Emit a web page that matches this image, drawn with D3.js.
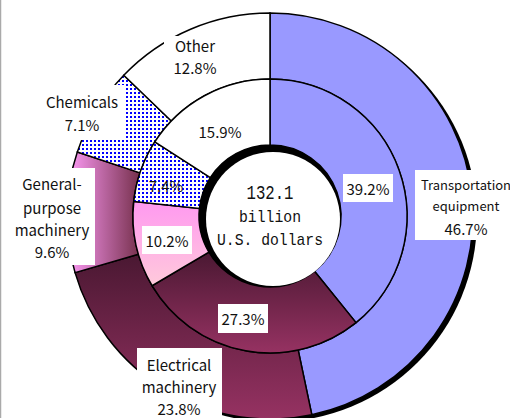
<!DOCTYPE html>
<html>
<head>
<meta charset="utf-8">
<title></title>
<style type="text/css">
body { margin: 0; background: #fff; }
text { font-family: "Noto Sans CJK JP", "Noto Sans", sans-serif; fill: #111; }
.mono { font-family: "Liberation Mono", "DejaVu Sans Mono", monospace; }
</style>
</head>
<body>
<svg width="510" height="418"></svg>
<script src="https://d3js.org/d3.v7.min.js"></script>
<script type="text/javascript">
// data
var categories = ["Transportation equipment", "Electrical machinery", "General-purpose machinery", "Chemicals", "Other"];
var outerValues = [46.7, 23.8, 9.6, 7.1, 12.8];
var innerValues = [39.2, 27.3, 10.2, 7.4, 15.9];
var outerLabels = [["Transportation", "equipment", "46.7%"], ["Electrical", "machinery", "23.8%"],
    ["General-", "purpose", "machinery", "9.6%"], ["Chemicals", "7.1%"], ["Other", "12.8%"]];
var centerLines = ["132.1", "billion", "U.S. dollars"];

var svg = d3.select("svg"),
    cx = 270, cy = 216,
    rHole = 71, rMid = 137, rOut = 203;

var defs = svg.append("defs");

function grad(id, x2, y2, c1, c2) {
    var g = defs.append("linearGradient").attr("id", id)
        .attr("x1", 0).attr("y1", 0).attr("x2", x2).attr("y2", y2);
    g.append("stop").attr("offset", "0%").attr("stop-color", c1);
    g.append("stop").attr("offset", "100%").attr("stop-color", c2);
}
grad("elec", 0, 1, "#4a1832", "#963262");
grad("genOut", 1, 0, "#ff9cf8", "#76304c");
grad("genIn", 0, 1, "#ff99f0", "#ffcadb");

var pat = defs.append("pattern").attr("id", "dots")
    .attr("width", 4).attr("height", 4).attr("patternUnits", "userSpaceOnUse");
pat.append("rect").attr("width", 4).attr("height", 4).attr("fill", "#fff");
pat.append("rect").attr("width", 2).attr("height", 2).attr("fill", "#0000ff");

var outerFill = ["#9999ff", "url(#elec)", "url(#genOut)", "url(#dots)", "#ffffff"];
var innerFill = ["#9999ff", "url(#elec)", "url(#genIn)", "url(#dots)", "#ffffff"];

// left frame line
svg.append("line").attr("x1", 0.5).attr("x2", 0.5).attr("y1", 0).attr("y2", 418)
    .attr("stroke", "#aaa").attr("stroke-width", 1.5);

var pie = d3.pie().sort(null).value(function(d) { return d; });
var outerArc = d3.arc().innerRadius(rMid).outerRadius(rOut);
var innerArc = d3.arc().innerRadius(rHole).outerRadius(rMid);

var g = svg.append("g").attr("transform", "translate(" + cx + "," + cy + ")");

// shadow behind the outer ring
g.append("circle").attr("cx", 4).attr("cy", 3).attr("r", rOut).attr("fill", "#000");

g.selectAll("path.outer").data(pie(outerValues)).enter().append("path")
    .attr("class", "outer")
    .attr("d", outerArc)
    .attr("fill", function(d, i) { return outerFill[i]; })
    .attr("stroke", "#000").attr("stroke-width", 1.5);

g.selectAll("path.inner").data(pie(innerValues)).enter().append("path")
    .attr("class", "inner")
    .attr("d", innerArc)
    .attr("fill", function(d, i) { return innerFill[i]; })
    .attr("stroke", "#000").attr("stroke-width", 1.5);

// hole with inset shadow
g.append("circle").attr("r", rHole).attr("fill", "#000");
g.append("circle").attr("cx", 3).attr("cy", 3).attr("r", 67).attr("fill", "#fff");

// label boxes (x, y, w, h) and text anchors, layout only
var outerBoxes = [[415, 170, 100, 70], [137, 348, 85, 75], [13, 168, 82, 97], [38, 85, 88, 55], [164, 36, 64, 46]];
var outerSpots = [[466, [184, 205, 228]], [179, [364, 386, 408]], [52, [183, 207, 229, 251]], [82, [101, 124]], [195, [45, 67]]];
var innerBoxes = [[343, 174, 50, 28], [218, 304, 50, 29], [142, 226, 50, 28], null, null];
var innerSpots = [[368, 188], [243, 318], [167, 240], [166, 185], [220, 131]];

outerBoxes.forEach(function(b) {
    svg.append("rect").attr("x", b[0]).attr("y", b[1]).attr("width", b[2]).attr("height", b[3]).attr("fill", "#fff");
});
innerBoxes.forEach(function(b) {
    if (b) svg.append("rect").attr("x", b[0]).attr("y", b[1]).attr("width", b[2]).attr("height", b[3]).attr("fill", "#fff");
});

outerLabels.forEach(function(lines, i) {
    var s = outerSpots[i];
    lines.forEach(function(t, j) {
        var small = i === 0 && j < 2;
        svg.append("text").attr("x", s[0]).attr("y", s[1][j])
            .attr("text-anchor", "middle").attr("dominant-baseline", "central")
            .style("font-size", small ? "13px" : "15px")
            .text(t);
    });
});

innerValues.forEach(function(v, i) {
    svg.append("text").attr("x", innerSpots[i][0]).attr("y", innerSpots[i][1])
        .attr("text-anchor", "middle").attr("dominant-baseline", "central")
        .style("font-size", "15px")
        .text(v.toFixed(1) + "%");
});

var centerY = [193, 217, 240], centerW = [47, 62, 106], centerSize = [20, 17, 17];
centerLines.forEach(function(t, j) {
    svg.append("text").attr("class", "mono")
        .attr("x", cx).attr("y", centerY[j])
        .attr("text-anchor", "middle").attr("dominant-baseline", "central")
        .attr("textLength", centerW[j]).attr("lengthAdjust", "spacingAndGlyphs")
        .style("font-size", centerSize[j] + "px")
        .text(t);
});
</script>
</body>
</html>
